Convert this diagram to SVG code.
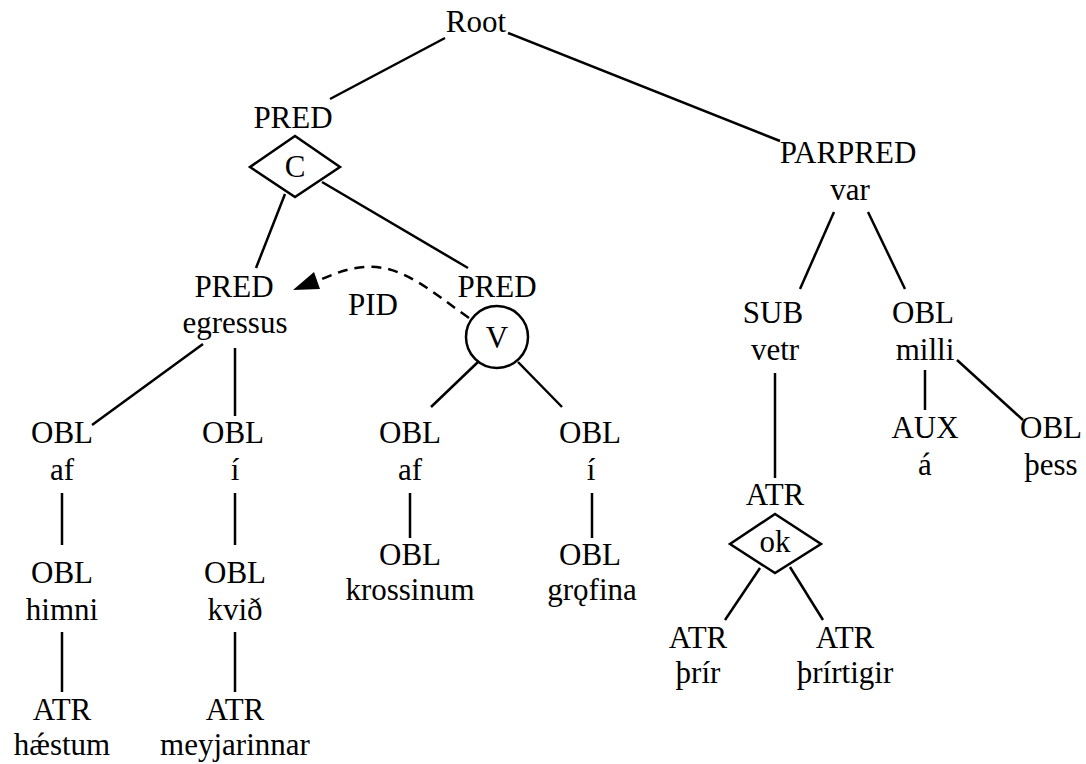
<svg xmlns="http://www.w3.org/2000/svg" width="1086" height="764" viewBox="0 0 1086 764" font-family="'Liberation Serif', 'Times New Roman', Times, 'DejaVu Serif', serif">
  <style>
    text { font-family: 'Liberation Serif', 'Times New Roman', Times, 'DejaVu Serif', serif; font-size: 31px; fill: #000; text-anchor: middle; }
    .edge { stroke: #000; stroke-width: 2.5; fill: none; stroke-linecap: butt; }
    .dash { stroke: #000; stroke-width: 2.5; fill: none; stroke-dasharray: 10 7; }
    .shape { stroke: #000; stroke-width: 2.5; fill: #fff; }
  </style>
  <rect width="1086" height="764" fill="#fff"/>

  <!-- connectors -->
  <g id="connectors">
    <line class="edge" x1="445" y1="38" x2="330" y2="99"/>
    <line class="edge" x1="508" y1="33" x2="780" y2="141"/>
    <line class="edge" x1="285" y1="194" x2="256" y2="268"/>
    <line class="edge" x1="322" y1="182" x2="468" y2="268"/>
    <line class="edge" x1="203" y1="344" x2="92" y2="425"/>
    <line class="edge" x1="235" y1="348" x2="235" y2="416"/>
    <line class="edge" x1="62" y1="493" x2="62" y2="545"/>
    <line class="edge" x1="62" y1="632" x2="62" y2="692"/>
    <line class="edge" x1="235" y1="493" x2="235" y2="545"/>
    <line class="edge" x1="235" y1="632" x2="235" y2="692"/>
    <line class="edge" x1="478" y1="362" x2="431" y2="407"/>
    <line class="edge" x1="518" y1="362" x2="562" y2="407"/>
    <line class="edge" x1="410" y1="493" x2="410" y2="538"/>
    <line class="edge" x1="592" y1="493" x2="592" y2="538"/>
    <line class="edge" x1="834" y1="212" x2="800" y2="289"/>
    <line class="edge" x1="868" y1="212" x2="905" y2="289"/>
    <line class="edge" x1="775" y1="373" x2="775" y2="478"/>
    <line class="edge" x1="925" y1="370" x2="925" y2="410"/>
    <line class="edge" x1="957" y1="360" x2="1023" y2="420"/>
    <line class="edge" x1="760" y1="568" x2="725" y2="620"/>
    <line class="edge" x1="790" y1="567" x2="823" y2="620"/>
    <!-- PID dependency -->
    <path class="dash" d="M469,318 C432,292 402,264 365,267 C349,268 336,273 322,279"/>
    <polygon points="293,290 320,289 314,272" fill="#000"/>
    <text x="373" y="315">PID</text>
  </g>

  <g id="root"><text x="476" y="32">Root</text></g>

  <g id="pred-c">
    <text x="293" y="128">PRED</text>
    <polygon class="shape" points="295,136 340,167 295,197 250,167"/>
    <text x="295" y="177">C</text>
  </g>

  <g id="parpred-var">
    <text x="848" y="163">PARPRED</text>
    <text x="850" y="200">var</text>
  </g>

  <g id="pred-egressus">
    <text x="234" y="297">PRED</text>
    <text x="235" y="333">egressus</text>
  </g>

  <g id="pred-v">
    <text x="497" y="297">PRED</text>
    <circle class="shape" cx="497" cy="337" r="31"/>
    <text x="497" y="348">V</text>
  </g>

  <g id="obl-af-1">
    <text x="62" y="443">OBL</text>
    <text x="62" y="480">af</text>
  </g>
  <g id="obl-himni">
    <text x="62" y="583">OBL</text>
    <text x="62" y="620">himni</text>
  </g>
  <g id="atr-haestum">
    <text x="62" y="720">ATR</text>
    <text x="62" y="755">hǽstum</text>
  </g>

  <g id="obl-i-1">
    <text x="233" y="443">OBL</text>
    <text x="235" y="480">í</text>
  </g>
  <g id="obl-kvid">
    <text x="235" y="583">OBL</text>
    <text x="235" y="620">kvið</text>
  </g>
  <g id="atr-meyjarinnar">
    <text x="235" y="720">ATR</text>
    <text x="235" y="755">meyjarinnar</text>
  </g>

  <g id="obl-af-2">
    <text x="410" y="443">OBL</text>
    <text x="410" y="480">af</text>
  </g>
  <g id="obl-krossinum">
    <text x="410" y="565">OBL</text>
    <text x="410" y="600">krossinum</text>
  </g>

  <g id="obl-i-2">
    <text x="590" y="443">OBL</text>
    <text x="591" y="480">í</text>
  </g>
  <g id="obl-grofina">
    <text x="590" y="565">OBL</text>
    <text x="592" y="600">grǫfina</text>
  </g>

  <g id="sub-vetr">
    <text x="773" y="323">SUB</text>
    <text x="775" y="360">vetr</text>
  </g>

  <g id="obl-milli">
    <text x="923" y="323">OBL</text>
    <text x="925" y="360">milli</text>
  </g>
  <g id="aux-a">
    <text x="925" y="438">AUX</text>
    <text x="925" y="475">á</text>
  </g>
  <g id="obl-thess">
    <text x="1051" y="438">OBL</text>
    <text x="1051" y="475">þess</text>
  </g>

  <g id="atr-ok">
    <text x="775" y="505">ATR</text>
    <polygon class="shape" points="775,514 821,544 775,573 730,544"/>
    <text x="775" y="552">ok</text>
  </g>
  <g id="atr-thrir">
    <text x="698" y="648">ATR</text>
    <text x="698" y="683">þrír</text>
  </g>
  <g id="atr-thrirtigir">
    <text x="845" y="648">ATR</text>
    <text x="845" y="683">þrírtigir</text>
  </g>
</svg>
